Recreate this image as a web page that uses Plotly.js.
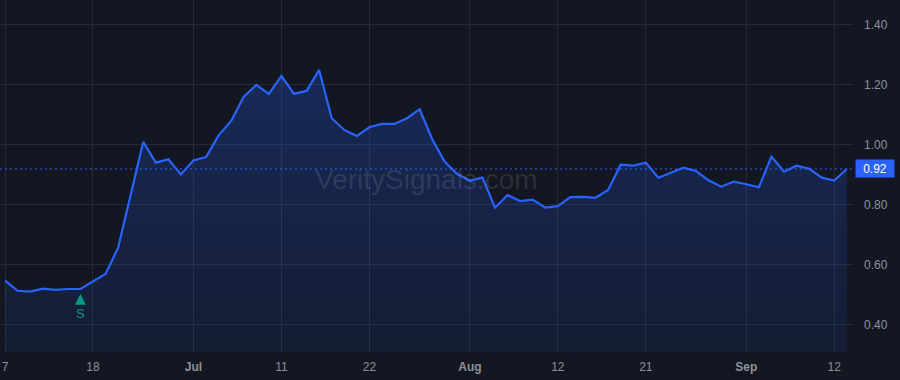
<!DOCTYPE html>
<html>
<head>
<meta charset="utf-8">
<script src="https://cdn.plot.ly/plotly-3.0.1.min.js"></script>
<style>
html,body{margin:0;padding:0;background:#131722;}
#chart{width:900px;height:380px;}
</style>
</head>
<body>
<div id="chart"></div>
<script>
// Trading days (2024)
const dates = [
 '2024-06-07','2024-06-10','2024-06-11','2024-06-12','2024-06-13','2024-06-14','2024-06-17','2024-06-18','2024-06-20','2024-06-21',
 '2024-06-24','2024-06-25','2024-06-26','2024-06-27','2024-06-28','2024-07-01','2024-07-02','2024-07-03','2024-07-05','2024-07-08',
 '2024-07-09','2024-07-10','2024-07-11','2024-07-12','2024-07-15','2024-07-16','2024-07-17','2024-07-18','2024-07-19','2024-07-22',
 '2024-07-23','2024-07-24','2024-07-25','2024-07-26','2024-07-29','2024-07-30','2024-07-31','2024-08-01','2024-08-02','2024-08-05',
 '2024-08-06','2024-08-07','2024-08-08','2024-08-09','2024-08-12','2024-08-13','2024-08-14','2024-08-15','2024-08-16','2024-08-19',
 '2024-08-20','2024-08-21','2024-08-22','2024-08-23','2024-08-26','2024-08-27','2024-08-28','2024-08-29','2024-08-30','2024-09-03',
 '2024-09-04','2024-09-05','2024-09-06','2024-09-09','2024-09-10','2024-09-11','2024-09-12','2024-09-13'
];
const values = [
 0.548,0.514,0.511,0.521,0.517,0.520,0.520,0.546,0.570,0.657,
 0.833,1.010,0.941,0.952,0.902,0.948,0.960,1.032,1.080,1.161,
 1.200,1.170,1.230,1.170,1.180,1.250,1.089,1.050,1.030,1.059,
 1.070,1.070,1.089,1.119,1.019,0.944,0.903,0.881,0.891,0.791,
 0.833,0.813,0.818,0.791,0.796,0.826,0.827,0.824,0.850,0.934,
 0.931,0.941,0.891,0.908,0.924,0.913,0.882,0.861,0.878,0.869,
 0.859,0.961,0.911,0.931,0.921,0.891,0.881,0.920
];
const tickDates = ['2024-06-07','2024-06-18','2024-07-01','2024-07-11','2024-07-22','2024-08-01','2024-08-12','2024-08-21','2024-09-03','2024-09-12'];
const tickLabels = ['7','18','<b>Jul</b>','11','22','<b>Aug</b>','12','21','<b>Sep</b>','12'];
const yTicks = [0.4,0.6,0.8,1.0,1.2,1.4];
const signalDates = ['2024-06-17'];
const signalLabels = ['S'];

const lastValue = values[values.length-1];
const blue = '#2962ff';
const green = '#089981';

const trace = {
  x: dates, y: values, type: 'scatter', mode: 'lines',
  line: {color: blue, width: 2.2},
  fill: 'tozeroy',
  fillgradient: {type: 'vertical', colorscale: [[0,'rgba(41,98,255,0.02)'],[1,'rgba(41,98,255,0.25)']]},
  hoverinfo: 'skip'
};

const annotations = [];
signalDates.forEach((d,i)=>{
  const v = values[dates.indexOf(d)];
  annotations.push({x: d, y: v, xref:'x', yref:'y', text:'',
    showarrow:true, ax:0, ay:15, axref:'pixel', ayref:'pixel',
    arrowhead:2, arrowsize:0.6, arrowwidth:3.6, arrowcolor:green, standoff:5});
  annotations.push({x: d, y: v, xref:'x', yref:'y', text:signalLabels[i], showarrow:false,
    yshift:-25, font:{family:'Liberation Sans, Arial', size:13, color:green}});
});
annotations.push({x: 0.5, y: 0.5, xref:'paper', yref:'paper', text:'VeritySignals.com', showarrow:false,
  font:{family:'Liberation Sans, Arial', size:28, color:'rgba(178,181,190,0.16)'}, xshift:0, yshift:-3});
annotations.push({x: 1, y: lastValue, xref:'paper', yref:'y', xanchor:'left', text: lastValue.toFixed(2),
  showarrow:false, bgcolor: blue, borderpad: 2, width: 34, height: 13,
  font:{family:'Liberation Sans, Arial', size:12, color:'#ffffff'}, xshift: 2});

const layout = {
  width: 900, height: 380,
  paper_bgcolor: '#131722', plot_bgcolor: '#131722',
  margin: {l:0, r:47, t:0, b:28},
  showlegend: false,
  xaxis: {
    type: 'category', range: [-0.4, 67.49],
    tickvals: tickDates, ticktext: tickLabels,
    showgrid: true, gridcolor: '#262a36', gridwidth: 1,
    zeroline: false, showline: false, ticks: '',
    tickfont: {family:'Liberation Sans, Arial', size:12, color:'#8d919c'},
    ticklabelstandoff: 6
  },
  yaxis: {
    side: 'right', range: [0.31, 1.483],
    tickvals: yTicks, ticktext: yTicks.map(v=>v.toFixed(2)),
    showgrid: true, gridcolor: '#262a36', gridwidth: 1,
    zeroline: false, showline: false, ticks: '',
    tickfont: {family:'Liberation Sans, Arial', size:12, color:'#8d919c'},
    ticklabelstandoff: 10
  },
  shapes: [{type:'line', xref:'paper', x0:0, x1:1, yref:'y', y0:lastValue, y1:lastValue,
    line:{color: blue, width:1, dash:'2px,3px'}}],
  annotations: annotations
};

Plotly.newPlot('chart', [trace], layout, {staticPlot:true, displayModeBar:false});
</script>
</body>
</html>
